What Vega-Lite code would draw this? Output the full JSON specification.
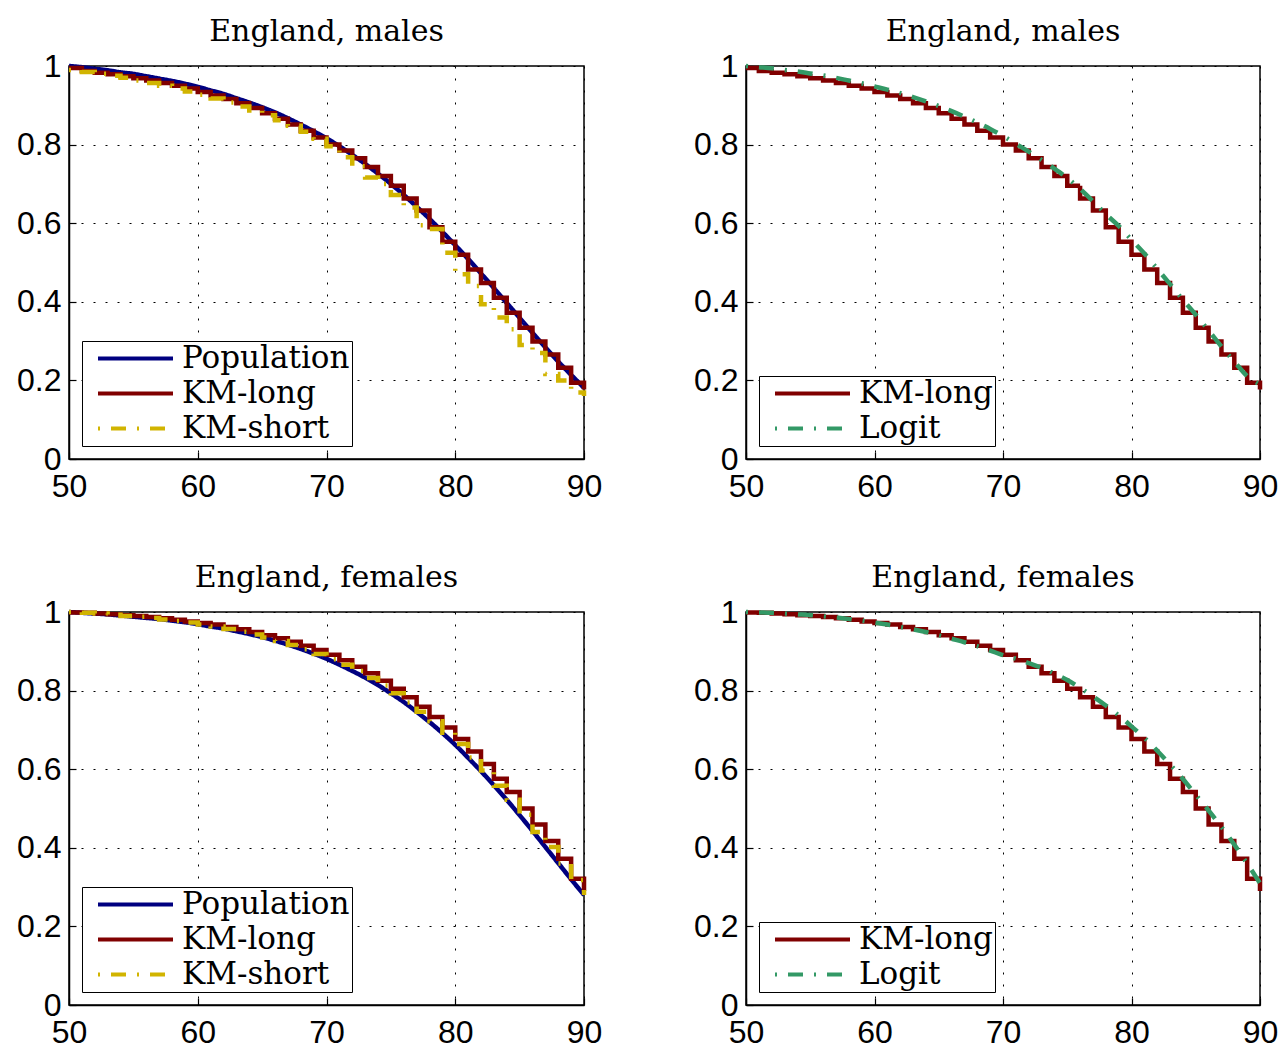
{
  "$schema": "https://vega.github.io/schema/vega-lite/v6.json",
  "padding": {"left": 15, "top": 16, "right": 10, "bottom": 10},
  "background": "white",
  "bounds": "flush",
  "spacing": {"row": 153, "column": 162},
  "columns": 2,
  "config": {
    "view": {"stroke": "black", "strokeWidth": 1.5},
    "title": {"font": "DejaVu Serif", "fontSize": 30, "fontWeight": "normal", "color": "black", "offset": 3, "anchor": "middle"},
    "axis": {
      "labelFont": "Liberation Sans", "labelFontSize": 32, "labelColor": "black",
      "grid": true, "gridColor": "black", "gridDash": [2, 10], "gridWidth": 1, "gridOpacity": 1,
      "ticks": true, "tickColor": "black", "tickSize": -7, "tickWidth": 1.2,
      "domain": true, "domainColor": "black", "domainWidth": 1.5, "title": null
    },
    "axisX": {"labelPadding": 19, "labelFlush": false, "labelOverlap": false},
    "axisY": {"labelPadding": 15, "labelOverlap": false},
    "legend": {
      "orient": "bottom-left", "offset": 13, "padding": 2, "strokeColor": "black", "fillColor": "white",
      "symbolType": "M-5,0H5", "symbolSize": 225, "symbolStrokeWidth": 4, "symbolOffset": 36,
      "labelFont": "DejaVu Serif", "labelFontSize": 31, "labelColor": "black", "labelOffset": 31,
      "rowPadding": 3, "labelLimit": 400, "title": null
    }
  },
  "datasets": {
    "males": [
      {"series":"Population","age":50,"surv":1},{"series":"Population","age":51,"surv":0.997},{"series":"Population","age":52,"surv":0.993},{"series":"Population","age":53,"surv":0.989},{"series":"Population","age":54,"surv":0.984},{"series":"Population","age":55,"surv":0.98},{"series":"Population","age":56,"surv":0.974},{"series":"Population","age":57,"surv":0.968},{"series":"Population","age":58,"surv":0.962},{"series":"Population","age":59,"surv":0.955},{"series":"Population","age":60,"surv":0.947},{"series":"Population","age":61,"surv":0.938},{"series":"Population","age":62,"surv":0.929},{"series":"Population","age":63,"surv":0.918},{"series":"Population","age":64,"surv":0.907},{"series":"Population","age":65,"surv":0.895},{"series":"Population","age":66,"surv":0.882},{"series":"Population","age":67,"surv":0.867},{"series":"Population","age":68,"surv":0.851},{"series":"Population","age":69,"surv":0.834},{"series":"Population","age":70,"surv":0.816},{"series":"Population","age":71,"surv":0.796},{"series":"Population","age":72,"surv":0.774},{"series":"Population","age":73,"surv":0.751},{"series":"Population","age":74,"surv":0.726},{"series":"Population","age":75,"surv":0.7},{"series":"Population","age":76,"surv":0.672},{"series":"Population","age":77,"surv":0.642},{"series":"Population","age":78,"surv":0.611},{"series":"Population","age":79,"surv":0.578},{"series":"Population","age":80,"surv":0.544},{"series":"Population","age":81,"surv":0.509},{"series":"Population","age":82,"surv":0.472},{"series":"Population","age":83,"surv":0.435},{"series":"Population","age":84,"surv":0.397},{"series":"Population","age":85,"surv":0.359},{"series":"Population","age":86,"surv":0.321},{"series":"Population","age":87,"surv":0.284},{"series":"Population","age":88,"surv":0.248},{"series":"Population","age":89,"surv":0.214},{"series":"Population","age":90,"surv":0.181},
      {"series":"KM-long","age":50,"surv":0.995},{"series":"KM-long","age":51,"surv":0.987},{"series":"KM-long","age":52,"surv":0.983},{"series":"KM-long","age":53,"surv":0.979},{"series":"KM-long","age":54,"surv":0.974},{"series":"KM-long","age":55,"surv":0.969},{"series":"KM-long","age":56,"surv":0.963},{"series":"KM-long","age":57,"surv":0.957},{"series":"KM-long","age":58,"surv":0.95},{"series":"KM-long","age":59,"surv":0.943},{"series":"KM-long","age":60,"surv":0.934},{"series":"KM-long","age":61,"surv":0.925},{"series":"KM-long","age":62,"surv":0.916},{"series":"KM-long","age":63,"surv":0.905},{"series":"KM-long","age":64,"surv":0.893},{"series":"KM-long","age":65,"surv":0.88},{"series":"KM-long","age":66,"surv":0.866},{"series":"KM-long","age":67,"surv":0.851},{"series":"KM-long","age":68,"surv":0.835},{"series":"KM-long","age":69,"surv":0.818},{"series":"KM-long","age":70,"surv":0.8},{"series":"KM-long","age":71,"surv":0.785},{"series":"KM-long","age":72,"surv":0.765},{"series":"KM-long","age":73,"surv":0.743},{"series":"KM-long","age":74,"surv":0.72},{"series":"KM-long","age":75,"surv":0.695},{"series":"KM-long","age":76,"surv":0.663},{"series":"KM-long","age":77,"surv":0.632},{"series":"KM-long","age":78,"surv":0.59},{"series":"KM-long","age":79,"surv":0.553},{"series":"KM-long","age":80,"surv":0.52},{"series":"KM-long","age":81,"surv":0.482},{"series":"KM-long","age":82,"surv":0.448},{"series":"KM-long","age":83,"surv":0.41},{"series":"KM-long","age":84,"surv":0.372},{"series":"KM-long","age":85,"surv":0.334},{"series":"KM-long","age":86,"surv":0.299},{"series":"KM-long","age":87,"surv":0.266},{"series":"KM-long","age":88,"surv":0.232},{"series":"KM-long","age":89,"surv":0.194},{"series":"KM-long","age":90,"surv":0.177},
      {"series":"KM-short","age":50,"surv":0.99},{"series":"KM-short","age":51,"surv":0.985},{"series":"KM-short","age":52,"surv":0.98},{"series":"KM-short","age":53,"surv":0.975},{"series":"KM-short","age":54,"surv":0.97},{"series":"KM-short","age":55,"surv":0.963},{"series":"KM-short","age":56,"surv":0.957},{"series":"KM-short","age":57,"surv":0.95},{"series":"KM-short","age":58,"surv":0.943},{"series":"KM-short","age":59,"surv":0.935},{"series":"KM-short","age":60,"surv":0.927},{"series":"KM-short","age":61,"surv":0.917},{"series":"KM-short","age":62,"surv":0.907},{"series":"KM-short","age":63,"surv":0.897},{"series":"KM-short","age":64,"surv":0.887},{"series":"KM-short","age":65,"surv":0.875},{"series":"KM-short","age":66,"surv":0.862},{"series":"KM-short","age":67,"surv":0.848},{"series":"KM-short","age":68,"surv":0.833},{"series":"KM-short","age":69,"surv":0.815},{"series":"KM-short","age":70,"surv":0.796},{"series":"KM-short","age":71,"surv":0.768},{"series":"KM-short","age":72,"surv":0.745},{"series":"KM-short","age":73,"surv":0.716},{"series":"KM-short","age":74,"surv":0.7},{"series":"KM-short","age":75,"surv":0.672},{"series":"KM-short","age":76,"surv":0.64},{"series":"KM-short","age":77,"surv":0.595},{"series":"KM-short","age":78,"surv":0.585},{"series":"KM-short","age":79,"surv":0.525},{"series":"KM-short","age":80,"surv":0.47},{"series":"KM-short","age":81,"surv":0.44},{"series":"KM-short","age":82,"surv":0.394},{"series":"KM-short","age":83,"surv":0.36},{"series":"KM-short","age":84,"surv":0.33},{"series":"KM-short","age":85,"surv":0.29},{"series":"KM-short","age":86,"surv":0.27},{"series":"KM-short","age":87,"surv":0.216},{"series":"KM-short","age":88,"surv":0.2},{"series":"KM-short","age":89,"surv":0.169},{"series":"KM-short","age":90,"surv":0.16},
      {"series":"Logit","age":50,"surv":1},{"series":"Logit","age":51,"surv":0.997},{"series":"Logit","age":52,"surv":0.994},{"series":"Logit","age":53,"surv":0.99},{"series":"Logit","age":54,"surv":0.986},{"series":"Logit","age":55,"surv":0.981},{"series":"Logit","age":56,"surv":0.976},{"series":"Logit","age":57,"surv":0.97},{"series":"Logit","age":58,"surv":0.963},{"series":"Logit","age":59,"surv":0.956},{"series":"Logit","age":60,"surv":0.948},{"series":"Logit","age":61,"surv":0.94},{"series":"Logit","age":62,"surv":0.931},{"series":"Logit","age":63,"surv":0.921},{"series":"Logit","age":64,"surv":0.91},{"series":"Logit","age":65,"surv":0.898},{"series":"Logit","age":66,"surv":0.885},{"series":"Logit","age":67,"surv":0.871},{"series":"Logit","age":68,"surv":0.856},{"series":"Logit","age":69,"surv":0.84},{"series":"Logit","age":70,"surv":0.822},{"series":"Logit","age":71,"surv":0.802},{"series":"Logit","age":72,"surv":0.782},{"series":"Logit","age":73,"surv":0.761},{"series":"Logit","age":74,"surv":0.739},{"series":"Logit","age":75,"surv":0.715},{"series":"Logit","age":76,"surv":0.687},{"series":"Logit","age":77,"surv":0.656},{"series":"Logit","age":78,"surv":0.623},{"series":"Logit","age":79,"surv":0.593},{"series":"Logit","age":80,"surv":0.558},{"series":"Logit","age":81,"surv":0.523},{"series":"Logit","age":82,"surv":0.484},{"series":"Logit","age":83,"surv":0.445},{"series":"Logit","age":84,"surv":0.405},{"series":"Logit","age":85,"surv":0.367},{"series":"Logit","age":86,"surv":0.327},{"series":"Logit","age":87,"surv":0.286},{"series":"Logit","age":88,"surv":0.248},{"series":"Logit","age":89,"surv":0.211},{"series":"Logit","age":90,"surv":0.19}
    ],
    "females": [
      {"series":"Population","age":50,"surv":1},{"series":"Population","age":51,"surv":0.998},{"series":"Population","age":52,"surv":0.996},{"series":"Population","age":53,"surv":0.994},{"series":"Population","age":54,"surv":0.991},{"series":"Population","age":55,"surv":0.988},{"series":"Population","age":56,"surv":0.985},{"series":"Population","age":57,"surv":0.982},{"series":"Population","age":58,"surv":0.978},{"series":"Population","age":59,"surv":0.974},{"series":"Population","age":60,"surv":0.969},{"series":"Population","age":61,"surv":0.963},{"series":"Population","age":62,"surv":0.958},{"series":"Population","age":63,"surv":0.951},{"series":"Population","age":64,"surv":0.944},{"series":"Population","age":65,"surv":0.936},{"series":"Population","age":66,"surv":0.927},{"series":"Population","age":67,"surv":0.917},{"series":"Population","age":68,"surv":0.906},{"series":"Population","age":69,"surv":0.894},{"series":"Population","age":70,"surv":0.881},{"series":"Population","age":71,"surv":0.866},{"series":"Population","age":72,"surv":0.85},{"series":"Population","age":73,"surv":0.833},{"series":"Population","age":74,"surv":0.814},{"series":"Population","age":75,"surv":0.793},{"series":"Population","age":76,"surv":0.771},{"series":"Population","age":77,"surv":0.746},{"series":"Population","age":78,"surv":0.72},{"series":"Population","age":79,"surv":0.692},{"series":"Population","age":80,"surv":0.662},{"series":"Population","age":81,"surv":0.629},{"series":"Population","age":82,"surv":0.595},{"series":"Population","age":83,"surv":0.559},{"series":"Population","age":84,"surv":0.522},{"series":"Population","age":85,"surv":0.483},{"series":"Population","age":86,"surv":0.443},{"series":"Population","age":87,"surv":0.402},{"series":"Population","age":88,"surv":0.361},{"series":"Population","age":89,"surv":0.32},{"series":"Population","age":90,"surv":0.28},
      {"series":"KM-long","age":50,"surv":0.999},{"series":"KM-long","age":51,"surv":0.998},{"series":"KM-long","age":52,"surv":0.996},{"series":"KM-long","age":53,"surv":0.994},{"series":"KM-long","age":54,"surv":0.992},{"series":"KM-long","age":55,"surv":0.99},{"series":"KM-long","age":56,"surv":0.987},{"series":"KM-long","age":57,"surv":0.984},{"series":"KM-long","age":58,"surv":0.98},{"series":"KM-long","age":59,"surv":0.976},{"series":"KM-long","age":60,"surv":0.972},{"series":"KM-long","age":61,"surv":0.968},{"series":"KM-long","age":62,"surv":0.962},{"series":"KM-long","age":63,"surv":0.956},{"series":"KM-long","age":64,"surv":0.949},{"series":"KM-long","age":65,"surv":0.941},{"series":"KM-long","age":66,"surv":0.933},{"series":"KM-long","age":67,"surv":0.924},{"series":"KM-long","age":68,"surv":0.914},{"series":"KM-long","age":69,"surv":0.903},{"series":"KM-long","age":70,"surv":0.891},{"series":"KM-long","age":71,"surv":0.877},{"series":"KM-long","age":72,"surv":0.861},{"series":"KM-long","age":73,"surv":0.844},{"series":"KM-long","age":74,"surv":0.825},{"series":"KM-long","age":75,"surv":0.805},{"series":"KM-long","age":76,"surv":0.783},{"series":"KM-long","age":77,"surv":0.759},{"series":"KM-long","age":78,"surv":0.733},{"series":"KM-long","age":79,"surv":0.706},{"series":"KM-long","age":80,"surv":0.677},{"series":"KM-long","age":81,"surv":0.645},{"series":"KM-long","age":82,"surv":0.613},{"series":"KM-long","age":83,"surv":0.576},{"series":"KM-long","age":84,"surv":0.542},{"series":"KM-long","age":85,"surv":0.5},{"series":"KM-long","age":86,"surv":0.459},{"series":"KM-long","age":87,"surv":0.417},{"series":"KM-long","age":88,"surv":0.372},{"series":"KM-long","age":89,"surv":0.321},{"series":"KM-long","age":90,"surv":0.29},
      {"series":"KM-short","age":50,"surv":1},{"series":"KM-short","age":51,"surv":0.998},{"series":"KM-short","age":52,"surv":0.996},{"series":"KM-short","age":53,"surv":0.993},{"series":"KM-short","age":54,"surv":0.99},{"series":"KM-short","age":55,"surv":0.988},{"series":"KM-short","age":56,"surv":0.985},{"series":"KM-short","age":57,"surv":0.981},{"series":"KM-short","age":58,"surv":0.977},{"series":"KM-short","age":59,"surv":0.973},{"series":"KM-short","age":60,"surv":0.968},{"series":"KM-short","age":61,"surv":0.963},{"series":"KM-short","age":62,"surv":0.957},{"series":"KM-short","age":63,"surv":0.95},{"series":"KM-short","age":64,"surv":0.943},{"series":"KM-short","age":65,"surv":0.935},{"series":"KM-short","age":66,"surv":0.926},{"series":"KM-short","age":67,"surv":0.916},{"series":"KM-short","age":68,"surv":0.905},{"series":"KM-short","age":69,"surv":0.893},{"series":"KM-short","age":70,"surv":0.88},{"series":"KM-short","age":71,"surv":0.866},{"series":"KM-short","age":72,"surv":0.85},{"series":"KM-short","age":73,"surv":0.832},{"series":"KM-short","age":74,"surv":0.813},{"series":"KM-short","age":75,"surv":0.793},{"series":"KM-short","age":76,"surv":0.77},{"series":"KM-short","age":77,"surv":0.746},{"series":"KM-short","age":78,"surv":0.722},{"series":"KM-short","age":79,"surv":0.693},{"series":"KM-short","age":80,"surv":0.664},{"series":"KM-short","age":81,"surv":0.63},{"series":"KM-short","age":82,"surv":0.597},{"series":"KM-short","age":83,"surv":0.558},{"series":"KM-short","age":84,"surv":0.522},{"series":"KM-short","age":85,"surv":0.484},{"series":"KM-short","age":86,"surv":0.44},{"series":"KM-short","age":87,"surv":0.402},{"series":"KM-short","age":88,"surv":0.36},{"series":"KM-short","age":89,"surv":0.318},{"series":"KM-short","age":90,"surv":0.28},
      {"series":"Logit","age":50,"surv":1},{"series":"Logit","age":51,"surv":0.999},{"series":"Logit","age":52,"surv":0.998},{"series":"Logit","age":53,"surv":0.996},{"series":"Logit","age":54,"surv":0.994},{"series":"Logit","age":55,"surv":0.992},{"series":"Logit","age":56,"surv":0.989},{"series":"Logit","age":57,"surv":0.986},{"series":"Logit","age":58,"surv":0.982},{"series":"Logit","age":59,"surv":0.978},{"series":"Logit","age":60,"surv":0.973},{"series":"Logit","age":61,"surv":0.968},{"series":"Logit","age":62,"surv":0.962},{"series":"Logit","age":63,"surv":0.956},{"series":"Logit","age":64,"surv":0.949},{"series":"Logit","age":65,"surv":0.941},{"series":"Logit","age":66,"surv":0.932},{"series":"Logit","age":67,"surv":0.923},{"series":"Logit","age":68,"surv":0.913},{"series":"Logit","age":69,"surv":0.902},{"series":"Logit","age":70,"surv":0.89},{"series":"Logit","age":71,"surv":0.881},{"series":"Logit","age":72,"surv":0.87},{"series":"Logit","age":73,"surv":0.858},{"series":"Logit","age":74,"surv":0.843},{"series":"Logit","age":75,"surv":0.827},{"series":"Logit","age":76,"surv":0.807},{"series":"Logit","age":77,"surv":0.785},{"series":"Logit","age":78,"surv":0.762},{"series":"Logit","age":79,"surv":0.737},{"series":"Logit","age":80,"surv":0.709},{"series":"Logit","age":81,"surv":0.68},{"series":"Logit","age":82,"surv":0.647},{"series":"Logit","age":83,"surv":0.612},{"series":"Logit","age":84,"surv":0.575},{"series":"Logit","age":85,"surv":0.535},{"series":"Logit","age":86,"surv":0.495},{"series":"Logit","age":87,"surv":0.453},{"series":"Logit","age":88,"surv":0.408},{"series":"Logit","age":89,"surv":0.36},{"series":"Logit","age":90,"surv":0.31}
    ]
  },
  "resolve": {
    "scale": {"color": "independent", "strokeDash": "independent"},
    "legend": {"color": "independent", "strokeDash": "independent"}
  },
  "concat": [
    {
      "width": 515, "height": 393,
      "title": "England, males",
      "data": {"name": "males"},
      "encoding": {
        "x": {"field": "age", "type": "quantitative", "scale": {"domain": [50, 90], "nice": false, "zero": false}, "axis": {"values": [50, 60, 70, 80, 90]}},
        "y": {"field": "surv", "type": "quantitative", "scale": {"domain": [0, 1], "nice": false}, "axis": {"values": [0, 0.2, 0.4, 0.6, 0.8, 1], "format": "~g"}},
        "color": {"field": "series", "type": "nominal", "scale": {"domain": ["Population", "KM-long", "KM-short"], "range": ["#000080", "#800000", "#D1B400"]}, "legend": {"orient": "bottom-left"}},
        "strokeDash": {"field": "series", "type": "nominal", "scale": {"domain": ["Population", "KM-long", "KM-short"], "range": [[1, 0], [1, 0], [2, 11, 15, 11]]}, "legend": {"orient": "bottom-left"}}
      },
      "layer": [
        {"transform": [{"filter": {"field": "series", "equal": "Population"}}], "mark": {"type": "line", "interpolate": "monotone", "strokeWidth": 4.5}},
        {"transform": [{"filter": {"field": "series", "equal": "KM-long"}}], "mark": {"type": "line", "interpolate": "step-after", "strokeWidth": 4.5}},
        {"transform": [{"filter": {"field": "series", "equal": "KM-short"}}], "mark": {"type": "line", "interpolate": "step-after", "strokeWidth": 4.5}}
      ]
    },
    {
      "width": 514, "height": 393,
      "title": "England, males",
      "data": {"name": "males"},
      "encoding": {
        "x": {"field": "age", "type": "quantitative", "scale": {"domain": [50, 90], "nice": false, "zero": false}, "axis": {"values": [50, 60, 70, 80, 90]}},
        "y": {"field": "surv", "type": "quantitative", "scale": {"domain": [0, 1], "nice": false}, "axis": {"values": [0, 0.2, 0.4, 0.6, 0.8, 1], "format": "~g"}},
        "color": {"field": "series", "type": "nominal", "scale": {"domain": ["KM-long", "Logit"], "range": ["#800000", "#339966"]}, "legend": {"orient": "bottom-left"}},
        "strokeDash": {"field": "series", "type": "nominal", "scale": {"domain": ["KM-long", "Logit"], "range": [[1, 0], [2, 11, 15, 11]]}, "legend": {"orient": "bottom-left"}}
      },
      "layer": [
        {"transform": [{"filter": {"field": "series", "equal": "KM-long"}}], "mark": {"type": "line", "interpolate": "step-after", "strokeWidth": 4.5}},
        {"transform": [{"filter": {"field": "series", "equal": "Logit"}}], "mark": {"type": "line", "interpolate": "monotone", "strokeWidth": 4.5}}
      ]
    },
    {
      "width": 515, "height": 393,
      "title": "England, females",
      "data": {"name": "females"},
      "encoding": {
        "x": {"field": "age", "type": "quantitative", "scale": {"domain": [50, 90], "nice": false, "zero": false}, "axis": {"values": [50, 60, 70, 80, 90]}},
        "y": {"field": "surv", "type": "quantitative", "scale": {"domain": [0, 1], "nice": false}, "axis": {"values": [0, 0.2, 0.4, 0.6, 0.8, 1], "format": "~g"}},
        "color": {"field": "series", "type": "nominal", "scale": {"domain": ["Population", "KM-long", "KM-short"], "range": ["#000080", "#800000", "#D1B400"]}, "legend": {"orient": "bottom-left"}},
        "strokeDash": {"field": "series", "type": "nominal", "scale": {"domain": ["Population", "KM-long", "KM-short"], "range": [[1, 0], [1, 0], [2, 11, 15, 11]]}, "legend": {"orient": "bottom-left"}}
      },
      "layer": [
        {"transform": [{"filter": {"field": "series", "equal": "Population"}}], "mark": {"type": "line", "interpolate": "monotone", "strokeWidth": 4.5}},
        {"transform": [{"filter": {"field": "series", "equal": "KM-long"}}], "mark": {"type": "line", "interpolate": "step-after", "strokeWidth": 4.5}},
        {"transform": [{"filter": {"field": "series", "equal": "KM-short"}}], "mark": {"type": "line", "interpolate": "step-after", "strokeWidth": 4.5}}
      ]
    },
    {
      "width": 514, "height": 393,
      "title": "England, females",
      "data": {"name": "females"},
      "encoding": {
        "x": {"field": "age", "type": "quantitative", "scale": {"domain": [50, 90], "nice": false, "zero": false}, "axis": {"values": [50, 60, 70, 80, 90]}},
        "y": {"field": "surv", "type": "quantitative", "scale": {"domain": [0, 1], "nice": false}, "axis": {"values": [0, 0.2, 0.4, 0.6, 0.8, 1], "format": "~g"}},
        "color": {"field": "series", "type": "nominal", "scale": {"domain": ["KM-long", "Logit"], "range": ["#800000", "#339966"]}, "legend": {"orient": "bottom-left"}},
        "strokeDash": {"field": "series", "type": "nominal", "scale": {"domain": ["KM-long", "Logit"], "range": [[1, 0], [2, 11, 15, 11]]}, "legend": {"orient": "bottom-left"}}
      },
      "layer": [
        {"transform": [{"filter": {"field": "series", "equal": "KM-long"}}], "mark": {"type": "line", "interpolate": "step-after", "strokeWidth": 4.5}},
        {"transform": [{"filter": {"field": "series", "equal": "Logit"}}], "mark": {"type": "line", "interpolate": "monotone", "strokeWidth": 4.5}}
      ]
    }
  ]
}
